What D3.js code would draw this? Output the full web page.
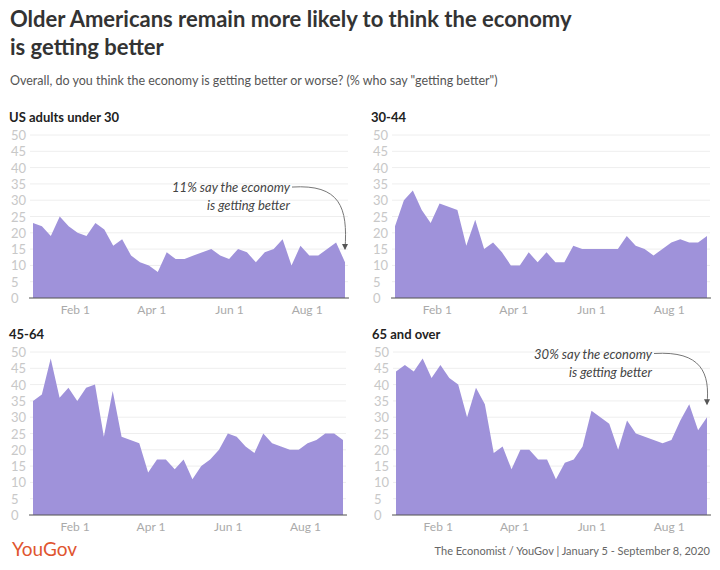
<!DOCTYPE html><html><head><meta charset="utf-8">
<script src="https://cdn.jsdelivr.net/npm/d3@7"></script>
<style>body{margin:0;background:#fff}svg{font-family:Lato,"Open Sans",sans-serif}</style></head><body>
<svg id="c" width="720" height="570"></svg>
<script>
const weeks = d3.range(36).map(i => d3.timeDay.offset(new Date(2020,0,5), i*7));
const under30 = [23,22,19,25,22,20,19,23,21,16,18,13,11,10,8,14,12,12,13,14,15,13,12,15,14,11,14,15,18,10,16,13,13,15,17,11];
const age30_44 = [22,30,33,27,23,29,28,27,16,24,15,17,14,10,10,14,11,14,11,11,16,15,15,15,15,15,19,16,15,13,15,17,18,17,17,19];
const age45_64 = [35,37,48,36,39,35,39,40,24,38,24,23,22,13,17,17,14,17,11,15,17,20,25,24,21,19,25,22,21,20,20,22,23,25,25,23];
const age65 = [44,46,44,48,42,46,42,40,30,39,34,19,21,14,20,20,17,17,11,16,17,21,32,30,28,20,29,25,24,23,22,23,29,34,26,30];
const yTicks = [0,5,10,15,20,25,30,35,40,45,50];
const xTickDates = [new Date(2020,1,1),new Date(2020,3,1),new Date(2020,5,1),new Date(2020,7,1)];
const panels = [
 {title:"US adults under 30", data:under30, x0:33, x1:345, yb:298, yt:135, note:["11% say the economy","is getting better"], nv:32.5},
 {title:"30-44", data:age30_44, x0:395, x1:707, yb:298, yt:135},
 {title:"45-64", data:age45_64, x0:33, x1:343, yb:515, yt:352},
 {title:"65 and over", data:age65, x0:396, x1:707, yb:515, yt:352, note:["30% say the economy","is getting better"], nv:48}
];
const svg = d3.select("#c");
svg.append("text").attr("x",10).attr("y",27).attr("font-size",22).attr("font-weight",700).attr("fill","#333").text("Older Americans remain more likely to think the economy");
svg.append("text").attr("x",10).attr("y",55).attr("font-size",22).attr("font-weight",700).attr("fill","#333").text("is getting better");
svg.append("text").attr("x",10).attr("y",85).attr("font-size",12.5).attr("fill","#555").text("Overall, do you think the economy is getting better or worse? (% who say \"getting better\")");
panels.forEach(p=>{
  const g = svg.append("g");
  const x = d3.scaleTime().domain([weeks[0],weeks[35]]).range([p.x0,p.x1]);
  const y = d3.scaleLinear().domain([0,50]).range([p.yb,p.yt]);
  g.append("text").attr("x",p.x0-24).attr("y",p.yt-13).attr("font-size",13).attr("font-weight",700).attr("fill","#222").text(p.title);
  yTicks.forEach(t=>{
    g.append("line").attr("x1",p.x0-3).attr("x2",p.x1+3).attr("y1",y(t)).attr("y2",y(t)).attr("stroke","#eee");
    g.append("text").attr("x",p.x0-22).attr("y",y(t)+5).attr("font-size",13).attr("fill","#c8c8c8").text(t);
  });
  g.append("path").datum(p.data).attr("fill","#9f92da")
   .attr("d",d3.area().x((d,i)=>x(weeks[i])).y0(y(0)).y1(d=>y(d)));
  g.append("line").attr("x1",p.x0-4).attr("x2",p.x1+4).attr("y1",y(0)).attr("y2",y(0)).attr("stroke","#555").attr("stroke-width",1);
  xTickDates.forEach(d=>{
    g.append("text").attr("x",x(d)+8).attr("y",p.yb+16).attr("text-anchor","middle").attr("font-size",12).attr("fill","#aaa").text(d3.timeFormat("%b 1")(d));
  });
  if(p.note){
    const ty = y(p.nv);
    g.append("text").attr("x",p.x1-55).attr("y",ty).attr("text-anchor","end").attr("font-size",13).attr("font-style","italic").attr("fill","#444")
      .selectAll("tspan").data(p.note).join("tspan").attr("x",p.x1-55).attr("dy",(d,i)=>i?18:0).text(d=>d);
    const ex = x(weeks[35]), ey = y(p.data[35]+4);
    g.append("path").attr("d",`M${p.x1-53},${ty-5} C${ex-5},${ty-8} ${ex+3},${ty+15} ${ex},${ey}`).attr("fill","none").attr("stroke","#777");
    g.append("path").attr("d",`M${ex-3},${ey-5} L${ex},${ey+1} L${ex+3},${ey-5}Z`).attr("fill","#555");
  }
});
svg.append("text").attr("x",12).attr("y",556).attr("font-size",19).attr("fill","#e0552f").text("YouGov");
svg.append("text").attr("x",710).attr("y",555).attr("text-anchor","end").attr("font-size",11).attr("fill","#666").text("The Economist / YouGov | January 5 - September 8, 2020");
</script></body></html>
